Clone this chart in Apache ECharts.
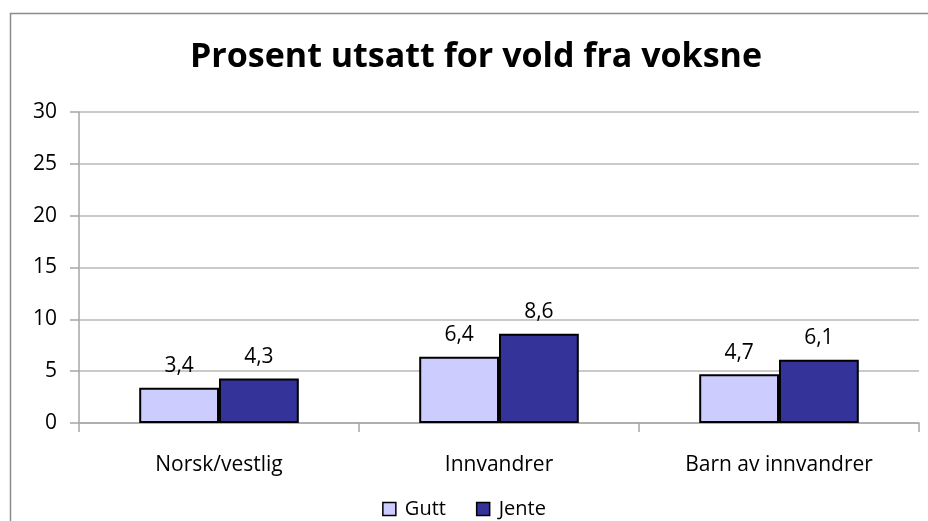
<!DOCTYPE html>
<html><head><meta charset="utf-8">
<script src="https://cdn.jsdelivr.net/npm/echarts@6/dist/echarts.min.js"></script>
<style>html,body{margin:0;padding:0;background:#fff}#c{width:928px;height:521px}</style>
</head><body><div id="c"></div>
<script>
const titleText = 'Prosent utsatt for vold fra voksne';
const categories = ['Norsk/vestlig', 'Innvandrer', 'Barn av innvandrer'];
const gutt = [3.4, 6.4, 4.7];
const jente = [4.3, 8.6, 6.1];
const yTicks = [0, 5, 10, 15, 20, 25, 30];

const font = 'Open Sans';
const chart = echarts.init(document.getElementById('c'));
const lbl = {show: true, position: 'top', color: '#000', fontFamily: font, fontSize: 21, distance: 11,
  formatter: p => String(p.value).replace('.', ',')};
chart.setOption({
  animation: false,
  graphic: [{type: 'rect', left: 8, top: 11, shape: {width: 960, height: 560},
    style: {fill: 'none', stroke: '#8c8c8c', lineWidth: 1.5}, silent: true}],
  title: {text: titleText, left: 190, top: 40, padding: 0,
    textStyle: {fontFamily: font, fontWeight: 'bold', fontSize: 34, color: '#000'}},
  legend: {bottom: -3, left: 'center', itemWidth: 13, itemHeight: 13, itemGap: 30,
    textStyle: {fontFamily: font, fontSize: 20, color: '#000', padding: [0, 0, 0, 4]},
    data: [{name: 'Gutt', icon: 'rect', itemStyle: {borderColor: '#000', borderWidth: 1.5}},
           {name: 'Jente', icon: 'rect', itemStyle: {borderColor: '#000', borderWidth: 1.5}}]},
  grid: {left: 79, right: 9, top: 112, bottom: 98, containLabel: false},
  xAxis: {type: 'category', data: categories,
    axisLine: {lineStyle: {color: '#a6a6a6', width: 1.5}},
    axisTick: {show: true, length: 9, lineStyle: {color: '#a6a6a6', width: 1.5}},
    axisLabel: {color: '#000', fontFamily: font, fontSize: 21, margin: 32}},
  yAxis: {type: 'value', min: yTicks[0], max: yTicks[yTicks.length - 1], interval: 5,
    axisLine: {show: true, lineStyle: {color: '#a6a6a6', width: 1.5}},
    axisTick: {show: true, length: 9, lineStyle: {color: '#a6a6a6', width: 1.5}},
    splitLine: {lineStyle: {color: '#b8b8b8', width: 1.5}},
    axisLabel: {color: '#000', fontFamily: font, fontSize: 21, margin: 22}},
  series: [
    {name: 'Gutt', type: 'bar', data: gutt, barGap: '0%', barCategoryGap: '43%',
      itemStyle: {color: '#ccccff', borderColor: '#000', borderWidth: 2}, label: lbl},
    {name: 'Jente', type: 'bar', data: jente,
      itemStyle: {color: '#333399', borderColor: '#000', borderWidth: 2}, label: lbl}
  ]
});
</script></body></html>
